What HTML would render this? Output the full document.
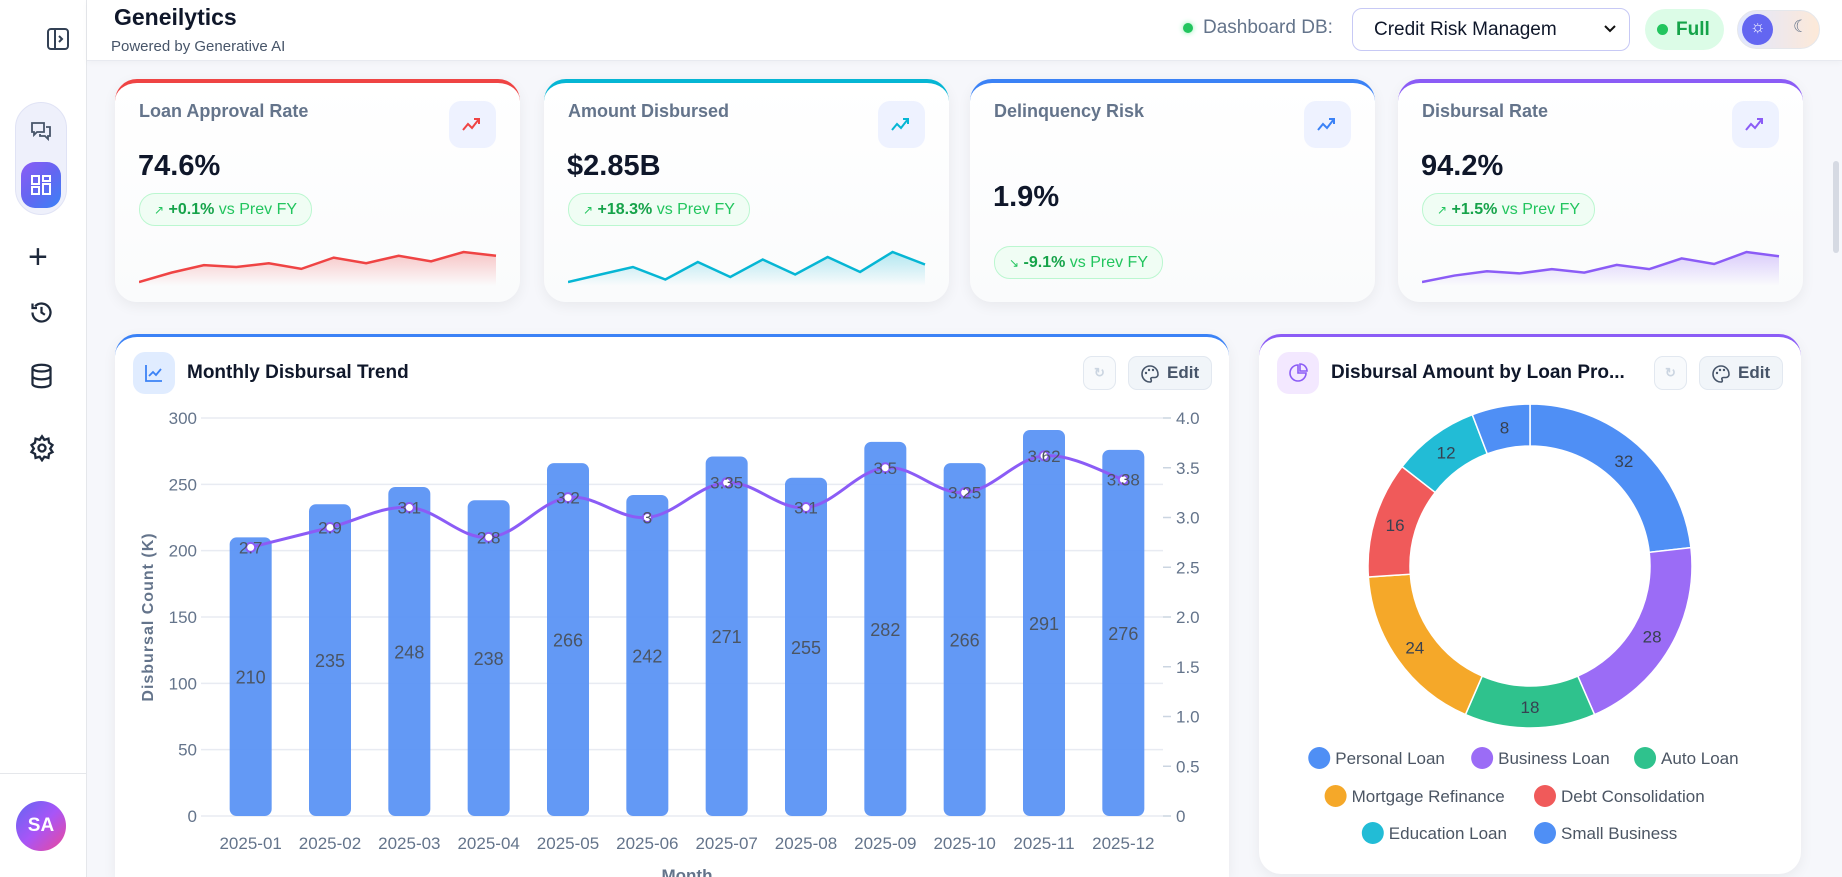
<!DOCTYPE html>
<html style="width:1842px;height:877px;overflow:hidden"><head><meta charset="utf-8">
<style>
*{box-sizing:border-box;margin:0;padding:0}
body{width:1842px;height:877px;overflow:hidden;background:#f6f7fb;font-family:"Liberation Sans",sans-serif;position:relative}
.abs{position:absolute}
.sidebar{left:0;top:0;width:87px;height:877px;background:#fff;border-right:1px solid #e5e7eb}
.header{left:87px;top:0;width:1755px;height:61px;background:#fff;border-bottom:1px solid #e8eaf0;box-shadow:0 2px 6px rgba(0,0,0,.03)}
.card{background:#fff;border-radius:22px;box-shadow:0 4px 14px rgba(0,0,0,.06);overflow:hidden}
.kpi-title{font-size:18px;color:#64748b;font-weight:bold}
.kpi-val{font-size:29px;color:#0f172a;font-weight:bold}
.badge{border:1px solid #bbf7d0;background:#f0fdf4;border-radius:16px;color:#16a34a;font-size:16px;height:33px;line-height:31px;padding:0 14px}
.badge b{font-weight:bold}
.badge span{color:#22c55e}
.iconbox{width:47px;height:47px;border-radius:12px;background:#eef2ff}
.btn{border:1px solid #e2e8f0;background:#f1f5f9;border-radius:9px;color:#475569;font-size:17px;font-weight:bold}
</style></head><body>
<div class="abs sidebar">
  <svg class="abs" style="left:46px;top:27px" width="24" height="24" viewBox="0 0 24 24"><rect x="2" y="2" width="20" height="20" rx="3" fill="none" stroke="#334155" stroke-width="2"/><line x1="9" y1="2" x2="9" y2="22" stroke="#334155" stroke-width="2"/><path d="M13 9l3 3-3 3" fill="none" stroke="#334155" stroke-width="2"/></svg>
  <div class="abs" style="left:15px;top:102px;width:52px;height:113px;border-radius:26px;background:#eef0fb;border:1px solid #e0e3f5"></div>
  <svg class="abs" style="left:29px;top:119px" width="24" height="24" viewBox="0 0 24 24"><path d="M3 4h12v9H8l-3 3v-3H3z M17 8h4v9h-2v3l-3-3h-5v-2" fill="none" stroke="#475569" stroke-width="1.8"/></svg>
  <div class="abs" style="left:21px;top:162px;width:40px;height:46px;border-radius:14px;background:linear-gradient(135deg,#8b5cf6,#6366f1,#3b82f6)">
    <svg class="abs" style="left:9px;top:12px" width="22" height="22" viewBox="0 0 22 22"><g fill="none" stroke="#fff" stroke-width="2"><rect x="2" y="2" width="7" height="8"/><rect x="13" y="2" width="7" height="5"/><rect x="2" y="13" width="7" height="7"/><rect x="13" y="10" width="7" height="10"/></g></svg>
  </div>
  <div class="abs" style="left:28px;top:240px;font-size:34px;color:#1e293b;line-height:34px">+</div>
  <svg class="abs" style="left:28px;top:299px" width="27" height="27" viewBox="0 0 24 24"><path d="M4 12a8 8 0 1 0 2.3-5.6M4 4v4h4M12 7v5l3 2" fill="none" stroke="#1e293b" stroke-width="2"/></svg>
  <svg class="abs" style="left:28px;top:362px" width="27" height="28" viewBox="0 0 24 24"><g fill="none" stroke="#1e293b" stroke-width="2"><ellipse cx="12" cy="5" rx="8" ry="3"/><path d="M4 5v14c0 1.7 3.6 3 8 3s8-1.3 8-3V5M4 12c0 1.7 3.6 3 8 3s8-1.3 8-3"/></g></svg>
  <svg class="abs" style="left:28px;top:434px" width="28" height="28" viewBox="0 0 24 24"><g fill="none" stroke="#1e293b" stroke-width="2"><circle cx="12" cy="12" r="3"/><path d="M12 2l2 3 3.5-1 .5 3.5 3 2-2 3 2 3-3 1.5-.5 3.5-3.5-1-2 3-2-3-3.5 1L6 17l-3-1.5 2-3-2-3 3-2L6.5 4 10 5z"/></g></svg>
  <div class="abs" style="left:0;top:773px;width:86px;border-top:1px solid #e5e7eb"></div>
  <div class="abs" style="left:16px;top:801px;width:50px;height:50px;border-radius:25px;background:linear-gradient(135deg,#6366f1,#a855f7,#ec4899);color:#fff;font-weight:bold;font-size:19px;text-align:center;line-height:50px">SA</div>
</div>
<div class="abs header">
  <div class="abs" style="left:27px;top:4px;font-size:23px;font-weight:bold;color:#0f172a">Geneilytics</div>
  <div class="abs" style="left:24px;top:38px;font-size:15px;color:#475569">Powered by Generative AI</div>
  <div class="abs" style="left:1096px;top:23px;width:10px;height:10px;border-radius:5px;background:#22c55e;box-shadow:0 0 6px #86efac"></div>
  <div class="abs" style="left:1116px;top:17px;font-size:19px;color:#64748b">Dashboard DB:</div>
  <div class="abs" style="left:1265px;top:8px;width:278px;height:43px;border:1px solid #c7c9f5;border-radius:10px;background:#fff;font-size:19px;color:#0f172a;line-height:41px;padding-left:21px">Credit Risk Managem<svg class="abs" style="right:12px;top:15px" width="14" height="10" viewBox="0 0 14 10"><path d="M2 2l5 5 5-5" fill="none" stroke="#111" stroke-width="2"/></svg></div>
  <div class="abs" style="left:1558px;top:9px;width:79px;height:41px;border-radius:21px;background:#dcfce7;color:#16a34a;font-size:19px;font-weight:bold;line-height:41px;padding-left:12px"><span style="display:inline-block;width:11px;height:11px;border-radius:6px;background:#22c55e;margin-right:8px"></span>Full</div>
  <div class="abs" style="left:1650px;top:10px;width:83px;height:39px;border-radius:20px;background:linear-gradient(90deg,#e0e7ff,#fde9d8);border:1px solid #e5e7eb">
    <div class="abs" style="left:4px;top:3px;width:31px;height:31px;border-radius:16px;background:#6366f1"></div>
    <div class="abs" style="left:12px;top:6px;color:#fff;font-size:17px">☼</div>
    <div class="abs" style="left:55px;top:6px;color:#64748b;font-size:17px">☾</div>
  </div>
</div>
<div class="abs" style="left:1833px;top:161px;width:6px;height:92px;border-radius:3px;background:#d6dae3"></div>

<div id="kpis"></div>

<div class="abs card" style="left:115px;top:334px;width:1114px;height:543px;border-radius:22px 22px 0 0;border-top:3px solid #3b82f6">
  <div class="abs iconbox" style="left:18px;top:15px;width:42px;height:42px;background:#e0ecff"><svg class="abs" style="left:11px;top:11px" width="20" height="20" viewBox="0 0 20 20"><path d="M2 2v16h16M5 13l4-4 3 3 5-6" fill="none" stroke="#3b82f6" stroke-width="1.8"/></svg></div>
  <div class="abs" style="left:72px;top:25px;font-size:19px;font-weight:bold;color:#0f172a">Monthly Disbursal Trend</div>
  <div class="abs btn" style="left:968px;top:19px;width:33px;height:34px;background:#f8fafc;color:#cbd5e1;text-align:center;line-height:32px;font-size:13px">↻</div>
  <div class="abs btn" style="left:1013px;top:19px;width:84px;height:34px;line-height:32px;padding-left:38px">Edit<svg class="abs" style="left:11px;top:7px" width="20" height="20" viewBox="0 0 20 20"><path d="M10 2a8 8 0 1 0 0 16c1.5 0 1.5-1.5 1-2.5s0-2 1.5-2H15a3 3 0 0 0 3-3C18 5.5 14.4 2 10 2z" fill="none" stroke="#475569" stroke-width="1.6"/><circle cx="6" cy="9" r="1.2" fill="#475569"/><circle cx="9" cy="6" r="1.2" fill="#475569"/><circle cx="13" cy="6" r="1.2" fill="#475569"/></svg></div>
</div>
<svg id="chart" class="abs" style="left:0;top:0" width="1842" height="877"></svg>

<div class="abs card" style="left:1259px;top:334px;width:542px;height:540px;border-top:3px solid #8b5cf6">
  <div class="abs iconbox" style="left:18px;top:15px;width:42px;height:42px;background:#f3e8ff"><svg class="abs" style="left:11px;top:11px" width="20" height="20" viewBox="0 0 20 20"><path d="M10 2v8h8A8 8 0 1 1 10 2zM12 1a7 7 0 0 1 7 7h-7z" fill="none" stroke="#8b5cf6" stroke-width="1.6"/></svg></div>
  <div class="abs" style="left:72px;top:25px;font-size:19px;font-weight:bold;color:#0f172a">Disbursal Amount by Loan Pro...</div>
  <div class="abs btn" style="left:395px;top:19px;width:33px;height:34px;background:#f8fafc;color:#cbd5e1;text-align:center;line-height:32px;font-size:13px">↻</div>
  <div class="abs btn" style="left:440px;top:19px;width:84px;height:34px;line-height:32px;padding-left:38px">Edit<svg class="abs" style="left:11px;top:7px" width="20" height="20" viewBox="0 0 20 20"><path d="M10 2a8 8 0 1 0 0 16c1.5 0 1.5-1.5 1-2.5s0-2 1.5-2H15a3 3 0 0 0 3-3C18 5.5 14.4 2 10 2z" fill="none" stroke="#475569" stroke-width="1.6"/><circle cx="6" cy="9" r="1.2" fill="#475569"/><circle cx="9" cy="6" r="1.2" fill="#475569"/><circle cx="13" cy="6" r="1.2" fill="#475569"/></svg></div>
</div>
<svg id="donut" class="abs" style="left:0;top:0;pointer-events:none" width="1842" height="877"></svg>

<script>
const NS='http://www.w3.org/2000/svg';
function mk(parent,tag,attrs,text){const e=document.createElementNS(NS,tag);for(const k in attrs)e.setAttribute(k,attrs[k]);if(text!==undefined)e.textContent=text;parent.appendChild(e);return e;}

const kpiTitles=['Loan Approval Rate','Amount Disbursed','Delinquency Risk','Disbursal Rate'];
const kpiValues=['74.6%','$2.85B','1.9%','94.2%'];
const kpiChanges=['+0.1%','+18.3%','-9.1%','+1.5%'];
const kpiColors=['#ef4444','#06b6d4','#3b82f6','#8b5cf6'];
const spark0=[0,2.5,4.5,4,5,3.5,6.5,5,7,5.5,8,7];
const spark1=[0,1.5,3,0.5,4,1,4.5,1.5,5,2,6,3.5];
const spark3=[0,1.5,2.5,2,3,2.2,4,3,5.5,4.2,7,6];
const sparks=[spark0,spark1,null,spark3];
const kpiLefts=[115,544,970,1398];
const kwrap=document.getElementById('kpis');
kpiTitles.forEach((t,i)=>{
  const c=document.createElement('div');c.className='abs card';
  
  
  c.style.cssText=`left:${kpiLefts[i]}px;top:79px;width:405px;height:223px;border-top:4px solid ${kpiColors[i]};background:linear-gradient(#fff,#fafbfc)`;
  const down=kpiChanges[i][0]==='-';
  const vTop=i===2?98:67, bTop=i===2?163:110;
  c.innerHTML=`<div class="abs kpi-title" style="left:24px;top:18px">${t}</div>
  <div class="abs iconbox" style="left:334px;top:18px"><svg class="abs" style="left:12px;top:14px" width="22" height="18" viewBox="0 0 22 18"><path d="M2 15l5-6 4 4 7-9M13 4h5v5" fill="none" stroke="${kpiColors[i]}" stroke-width="2"/></svg></div>
  <div class="abs kpi-val" style="left:23px;top:${vTop}px">${kpiValues[i]}</div>
  <div class="abs badge" style="left:24px;top:${bTop}px"><span style="font-size:12px">${down?'↘':'↗'}</span> <b>${kpiChanges[i]}</b> <span>vs Prev FY</span></div>`;
  kwrap.appendChild(c);
  const s=sparks[i];
  if(s){
    const sv=document.createElementNS(NS,'svg');sv.setAttribute('width','358');sv.setAttribute('height','40');sv.setAttribute('class','abs');sv.style.left='24px';sv.style.top='163px';
    
    
    const mx=Math.max(...s);const px=k=>k*357/(s.length-1), py=v=>36-v/mx*30;
    let d=s.map((v,k)=>(k?'L':'M')+px(k)+' '+py(v)).join(' ');
    const g=mk(sv,'defs',{});const lg=mk(g,'linearGradient',{id:'sg'+i,x1:0,y1:0,x2:0,y2:1});
    mk(lg,'stop',{offset:0,'stop-color':kpiColors[i],'stop-opacity':0.3});mk(lg,'stop',{offset:1,'stop-color':kpiColors[i],'stop-opacity':0});
    mk(sv,'path',{d:d+` L357 40 L0 40 Z`,fill:`url(#sg${i})`});
    mk(sv,'path',{d:d,fill:'none',stroke:kpiColors[i],'stroke-width':2.5});
    c.appendChild(sv);
  }
});

const months=['2025-01','2025-02','2025-03','2025-04','2025-05','2025-06','2025-07','2025-08','2025-09','2025-10','2025-11','2025-12'];
const counts=[210,235,248,238,266,242,271,255,282,266,291,276];
const amounts=[2.7,2.9,3.1,2.8,3.2,3.0,3.35,3.1,3.5,3.25,3.62,3.38];
const leftTicks=[0,50,100,150,200,250,300];
const rightTicks=[0,0.5,1.0,1.5,2.0,2.5,3.0,3.5,4.0];
const amountLabels=['2.7','2.9','3.1','2.8','3.2','3','3.35','3.1','3.5','3.25','3.62','3.38'];
const svg=document.getElementById('chart');
const X0=211,X1=1163,Y0=816,Y1=418;
const band=(X1-X0)/months.length;
const xc=i=>X0+band*(i+0.5);
const yL=v=>Y0-(v/300)*(Y0-Y1);
const yR=v=>Y0-(v/4)*(Y0-Y1);
leftTicks.forEach(t=>{
  const y=yL(t);
  const l=mk(svg,'line',{x1:X0-10,x2:X1,y1:y,y2:y,stroke:'#e8ebf2','stroke-width':1.5});
  
  
  const tx=mk(svg,'text',{x:X0-14,y:y+6,'text-anchor':'end','font-size':17,fill:'#64748b','font-family':'Liberation Sans'},t);
  
  
});
rightTicks.forEach(t=>{
  const y=yR(t);
  mk(svg,'line',{x1:X1,x2:X1+8,y1:y,y2:y,stroke:'#cbd5e1','stroke-width':1.5});
  const tx=mk(svg,'text',{x:X1+13,y:y+6,'font-size':17,fill:'#64748b','font-family':'Liberation Sans'},t===0?'0':t.toFixed(1));
  
  
});
counts.forEach((v,i)=>{
  const bw=42,x=xc(i)-bw/2,y=yL(v);
  const r=mk(svg,'rect',{x:x,y:y,width:bw,height:Y0-y,rx:7,fill:'#5b93f4','fill-opacity':0.95});
  
  
  const tx=mk(svg,'text',{x:xc(i),y:(y+Y0)/2+7,'text-anchor':'middle','font-size':18,fill:'#4b5563','font-family':'Liberation Sans'},v);
  
  
  const ml=mk(svg,'text',{x:xc(i),y:849,'text-anchor':'middle','font-size':17,fill:'#64748b','font-family':'Liberation Sans'},months[i]);
  
  
});
const pts=amounts.map((v,i)=>[xc(i),yR(v)]);
let d='M'+pts[0][0]+' '+pts[0][1];
for(let i=0;i<pts.length-1;i++){
  const p0=pts[Math.max(0,i-1)],p1=pts[i],p2=pts[i+1],p3=pts[Math.min(pts.length-1,i+2)];
  const t=0.18;
  d+=` C${p1[0]+(p2[0]-p0[0])*t} ${p1[1]+(p2[1]-p0[1])*t} ${p2[0]-(p3[0]-p1[0])*t} ${p2[1]-(p3[1]-p1[1])*t} ${p2[0]} ${p2[1]}`;
}
const ln=mk(svg,'path',{d:d,fill:'none',stroke:'#8b5cf6','stroke-width':3});


pts.forEach((p,i)=>{
  const c=mk(svg,'circle',{cx:p[0],cy:p[1],r:4.5,fill:'#fff',stroke:'#8b5cf6','stroke-width':2});
  
  
  const tx=mk(svg,'text',{x:p[0],y:p[1]+6,'text-anchor':'middle','font-size':17,fill:'#4b5563','font-family':'Liberation Sans'},amountLabels[i]);
  
  
});
const yt=mk(svg,'text',{x:0,y:0,transform:'translate(153,617) rotate(-90)','text-anchor':'middle','font-size':16,fill:'#64748b','font-weight':'bold','font-family':'Liberation Sans','letter-spacing':1},'Disbursal Count (K)');


const xt=mk(svg,'text',{x:687,y:881,'text-anchor':'middle','font-size':17,fill:'#64748b','font-weight':'bold','font-family':'Liberation Sans'},'Month');



const products=['Personal Loan','Business Loan','Auto Loan','Mortgage Refinance','Debt Consolidation','Education Loan','Small Business'];
const shares=[32,28,18,24,16,12,8];
const pColors=['#4f8ff5','#9b6cf6','#2fc28d','#f5a829','#f05a5a','#22bcd6','#4f8ff5'];
const dsv=document.getElementById('donut');
const CX=1530,CY=566,RO=162,RI=120;
const total=shares.reduce((a,b)=>a+b,0);
let a0=-Math.PI/2;
const pt=(r,a)=>[CX+r*Math.cos(a),CY+r*Math.sin(a)];
shares.forEach((v,i)=>{
  const a1=a0+v/total*2*Math.PI;
  const large=(a1-a0)>Math.PI?1:0;
  const [x0,y0]=pt(RO,a0),[x1,y1]=pt(RO,a1),[x2,y2]=pt(RI,a1),[x3,y3]=pt(RI,a0);
  const p=mk(dsv,'path',{d:`M${x0} ${y0} A${RO} ${RO} 0 ${large} 1 ${x1} ${y1} L${x2} ${y2} A${RI} ${RI} 0 ${large} 0 ${x3} ${y3}Z`,fill:pColors[i],stroke:'#fff','stroke-width':1.5});
  
  
  const am=(a0+a1)/2,[lx,ly]=pt((RO+RI)/2,am);
  const tx=mk(dsv,'text',{x:lx,y:ly+6,'text-anchor':'middle','font-size':17,fill:'#374151','font-family':'Liberation Sans'},v);
  
  
  a0=a1;
});
const rows=[[0,1,2],[3,4],[5,6]];
const rowY=[758,796,833];
rows.forEach((row,ri)=>{
  const widths=row.map(i=>products[i].length*9.3+34);
  const tot=widths.reduce((a,b)=>a+b,0)+ (row.length-1)*8;
  let x=1530-tot/2;
  row.forEach((i,k)=>{
    const c=mk(dsv,'circle',{cx:x+11,cy:rowY[ri],r:11,fill:pColors[i]});
    
    
    const tx=mk(dsv,'text',{x:x+27,y:rowY[ri]+6,'font-size':17,fill:'#4b5563','font-family':'Liberation Sans'},products[i]);
    
    
    x+=widths[k]+8;
  });
});
</script>
</body></html>
